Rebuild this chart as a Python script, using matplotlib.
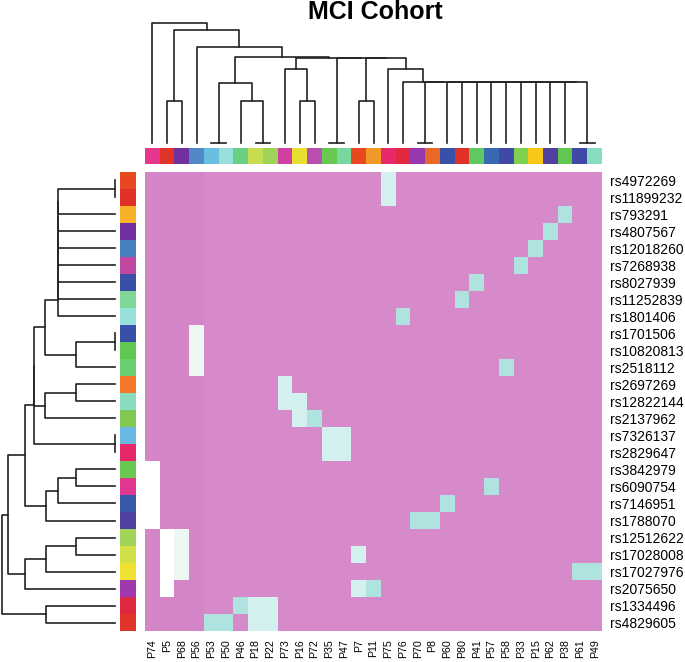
import numpy as np
import matplotlib
matplotlib.use('Agg')
import matplotlib.pyplot as plt
from matplotlib.colors import ListedColormap, BoundaryNorm

plt.rcParams['font.family'] = ['Liberation Sans', 'DejaVu Sans']

# ---- data ----
patients = ['P74', 'P5', 'P68', 'P56', 'P53', 'P50', 'P46', 'P18', 'P22', 'P73',
            'P16', 'P72', 'P35', 'P47', 'P7', 'P11', 'P75', 'P76', 'P70', 'P8',
            'P60', 'P80', 'P41', 'P57', 'P58', 'P33', 'P15', 'P62', 'P38', 'P61', 'P49']

snps = ['rs4972269', 'rs11899232', 'rs793291', 'rs4807567', 'rs12018260', 'rs7268938',
        'rs8027939', 'rs11252839', 'rs1801406', 'rs1701506', 'rs10820813', 'rs2518112',
        'rs2697269', 'rs12822144', 'rs2137962', 'rs7326137', 'rs2829647', 'rs3842979',
        'rs6090754', 'rs7146951', 'rs1788070', 'rs12512622', 'rs17028008', 'rs17027976',
        'rs2075650', 'rs1334496', 'rs4829605']

patient_colors = ['#E8358E', '#E03428', '#7030A0', '#5088C8', '#68BEE0', '#98E0DC',
                  '#68D080', '#C8DC50', '#A0D458', '#D040A0', '#E8E030', '#B850B0',
                  '#68C850', '#78D8A0', '#E84820', '#F09828', '#E82868', '#E02840',
                  '#9838B0', '#E86828', '#3850A8', '#E03028', '#60C860', '#3868B0',
                  '#4048A8', '#80D050', '#F8C818', '#5040A0', '#60C850', '#4048A8',
                  '#88DCC0']

snp_colors = ['#E84820', '#E03028', '#F8B028', '#7030A0', '#4880C0', '#C048A0',
              '#3850A8', '#80D898', '#98E0DC', '#3850A8', '#60C850', '#68D070',
              '#F07828', '#88DCC0', '#80C850', '#68B8E0', '#E82868', '#68C850',
              '#E03890', '#3858A8', '#5040A0', '#A0D458', '#D0E048', '#F0E030',
              '#A038B0', '#E02840', '#E03428']

# background level of each patient column (0 = slightly darker pink)
patient_shade = [0, 0, 0, 0, 1, 1, 1, 1, 1, 1, 1, 1, 1, 1, 1, 1,
                 1, 1, 1, 1, 1, 1, 1, 1, 1, 1, 1, 1, 1, 1, 1]

# highlighted cells: (snp, patient, level) 2=cyan 3=light cyan 4=near white 5=white
hits = [
    ('rs4972269', 'P75', 3), ('rs11899232', 'P75', 3),
    ('rs793291', 'P38', 2), ('rs4807567', 'P62', 2), ('rs12018260', 'P15', 2),
    ('rs7268938', 'P33', 2), ('rs8027939', 'P41', 2), ('rs11252839', 'P80', 2),
    ('rs1801406', 'P76', 2),
    ('rs1701506', 'P56', 4), ('rs10820813', 'P56', 4), ('rs2518112', 'P56', 4),
    ('rs2518112', 'P58', 2),
    ('rs2697269', 'P73', 3), ('rs12822144', 'P73', 3), ('rs12822144', 'P16', 3),
    ('rs2137962', 'P16', 3), ('rs2137962', 'P72', 2),
    ('rs7326137', 'P35', 3), ('rs7326137', 'P47', 3),
    ('rs2829647', 'P35', 3), ('rs2829647', 'P47', 3),
    ('rs3842979', 'P74', 5), ('rs6090754', 'P74', 5), ('rs7146951', 'P74', 5),
    ('rs1788070', 'P74', 5),
    ('rs6090754', 'P57', 2), ('rs7146951', 'P60', 2),
    ('rs1788070', 'P70', 2), ('rs1788070', 'P8', 2),
    ('rs12512622', 'P5', 5), ('rs17028008', 'P5', 5), ('rs17027976', 'P5', 5),
    ('rs2075650', 'P5', 5),
    ('rs12512622', 'P68', 4), ('rs17028008', 'P68', 4), ('rs17027976', 'P68', 4),
    ('rs17028008', 'P7', 3), ('rs2075650', 'P7', 3), ('rs2075650', 'P11', 2),
    ('rs17027976', 'P61', 2), ('rs17027976', 'P49', 2),
    ('rs1334496', 'P46', 2), ('rs1334496', 'P18', 3), ('rs1334496', 'P22', 3),
    ('rs4829605', 'P53', 2), ('rs4829605', 'P50', 2),
    ('rs4829605', 'P18', 3), ('rs4829605', 'P22', 3),
]

# dendrograms: (height, left, right), leaves are display positions
col_k = (0, 29, 30)
for leaf in [28, 27, 26, 25, 24, 23, 22, 21, 20]:
    col_k = (61, leaf, col_k)
col_k = (61, 17, (61, (0, 18, 19), col_k))
col_g = (60, (0, 4, 5), (42.3, 6, (0, 7, 8)))
col_h = (74, 9, (42.3, 10, 11))
col_y = (85, (0, 12, 13), (85, (42.3, 14, 15), (74, 16, col_k)))
col_tree = (120.6, 0, (113.3, (42.3, 1, 2), (96, 3, (86, col_g, (85.5, col_h, col_y)))))

row_c1 = (56.7, (56.7, (56.7, (56.7, (56.7, (56.7, (56.7, (0, 0, 1), 2), 3), 4), 5), 6), 7), 8)
row_a = (70, row_c1, (39, (0, 9, 10), 11))
row_b = (70, (39, 12, 13), 14)
row_d = (69, (56.7, (39, 17, 18), 19), 20)
row_e = (90, (69, (39, 21, 22), 23), 24)
row_n = (80.7, (80.7, row_a, row_b), (0, 15, 16))
row_tree = (113.3, (106.7, (90, row_n, row_d), row_e), (69, 25, 26))

# ---- drawing ----
W, H = 685, 662
fig = plt.figure(figsize=(W / 100, H / 100), dpi=100)


def px_axes(left, top, right, bottom):
    return fig.add_axes([left / W, 1 - bottom / H, (right - left) / W, (bottom - top) / H])


def draw_tree(ax, node, orient):
    if isinstance(node, int):
        return node + 0.5, 0.0
    h, left, right = node
    x1, h1 = draw_tree(ax, left, orient)
    x2, h2 = draw_tree(ax, right, orient)
    xs, ys = [x1, x1, x2, x2], [h1, h, h, h2]
    if orient == 'top':
        ax.plot(xs, ys, color='#222222', lw=1.2, clip_on=False)
    else:
        ax.plot(ys, xs, color='#222222', lw=1.2, clip_on=False)
    return (x1 + x2) / 2, h


ncol, nrow = len(patients), len(snps)
mat = np.array([patient_shade] * nrow, dtype=float)
for s, p, lev in hits:
    mat[snps.index(s), patients.index(p)] = lev

cmap = ListedColormap(['#D385C7', '#D68ACA', '#AEE3DF', '#D4F0EE', '#EEF6F3', '#FFFFFF'])
norm = BoundaryNorm(np.arange(-0.5, 6, 1), cmap.N)

ax = px_axes(145, 172, 602, 631)
ax.imshow(mat, cmap=cmap, norm=norm, aspect='auto', interpolation='nearest',
          extent=(0, ncol, nrow, 0))
for sp in ax.spines.values():
    sp.set_visible(False)
ax.yaxis.tick_right()
ax.set_yticks(np.arange(nrow) + 0.5)
ax.set_yticklabels(snps, fontsize=10)
ax.set_xticks(np.arange(ncol) + 0.5)
ax.set_xticklabels(patients, fontsize=7.7, rotation=90)
ax.tick_params(length=0, pad=6)

# column side colors
axc = px_axes(145, 148, 602, 164.5)
axc.imshow(np.arange(ncol)[None, :], cmap=ListedColormap(patient_colors),
           aspect='auto', interpolation='nearest', extent=(0, ncol, 1, 0))
axc.axis('off')

# row side colors
axr = px_axes(120, 172, 136, 631)
axr.imshow(np.arange(nrow)[:, None], cmap=ListedColormap(snp_colors),
           aspect='auto', interpolation='nearest', extent=(0, 1, nrow, 0))
axr.axis('off')

# column dendrogram
axd = px_axes(145, 22.7, 602, 143.3)
draw_tree(axd, col_tree, 'top')
axd.set_xlim(0, ncol)
axd.set_ylim(0, col_tree[0])
axd.axis('off')

# row dendrogram
axe = px_axes(1.7, 172, 115, 631)
draw_tree(axe, row_tree, 'left')
axe.set_xlim(row_tree[0], 0)
axe.set_ylim(nrow, 0)
axe.axis('off')

fig.text(375 / W, 1 - 19.3 / H, 'MCI Cohort', ha='center', va='baseline',
         fontsize=18, fontweight='bold')

fig.savefig('out.png', dpi=100, facecolor='white')
